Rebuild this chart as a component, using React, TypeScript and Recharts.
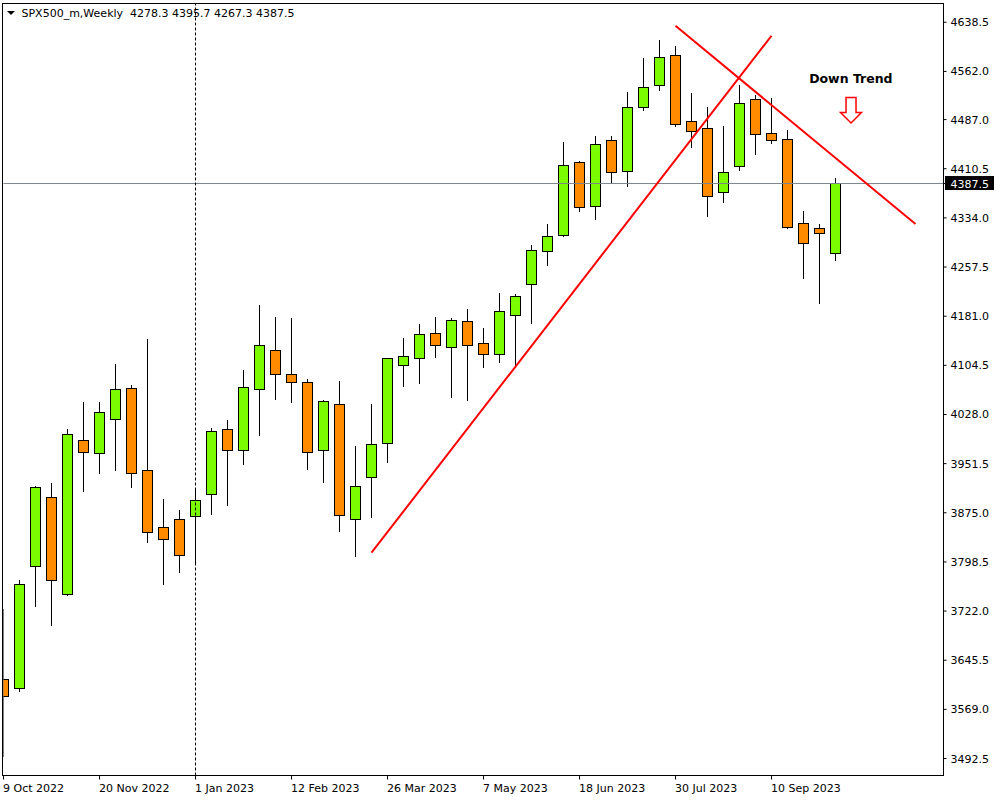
import React from 'react';
import { ComposedChart, Bar, XAxis, YAxis, ReferenceLine, ReferenceDot } from 'recharts';

// weekly bars, first bar = week of 9 Oct 2022
const weekTicks = [0, 6, 12, 18, 24, 30, 36, 42, 48];
const weekLabels = ['9 Oct 2022', '20 Nov 2022', '1 Jan 2023', '12 Feb 2023', '26 Mar 2023', '7 May 2023', '18 Jun 2023', '30 Jul 2023', '10 Sep 2023'];

const priceTicks = [3492.5, 3569.0, 3645.5, 3722.0, 3798.5, 3875.0, 3951.5, 4028.0, 4104.5, 4181.0, 4257.5, 4334.0, 4410.5, 4487.0, 4562.0, 4638.5];

const opens = [
  3615.5, 3601.4, 3791.5, 3898.9, 3747.9, 3987.7, 3967.5, 4020.4, 4068.7, 3941.0,
  3852.2, 3864.7, 3869.4, 3903.6, 4004.9, 3972.2, 4067.2, 4127.9, 4090.5, 4078.1,
  3972.2, 4043.8, 3864.7, 3930.1, 3983.1, 4104.5, 4115.4, 4154.4, 4132.6, 4173.1,
  4138.8, 4121.7, 4182.4, 4230.7, 4282.1, 4307.0, 4420.7, 4352.2, 4455.0, 4406.7,
  4506.4, 4540.7, 4587.4, 4484.6, 4473.7, 4374.0, 4414.5, 4518.9, 4465.9, 4456.6,
  4325.7, 4317.9, 4278.3,
];
const highs = [
  3724.5, 3770.1, 3916.5, 3920.7, 4005.3, 4047.4, 4047.4, 4106.6, 4073.9, 4145.5,
  3896.3, 3879.2, 3913.0, 4006.4, 4019.3, 4097.2, 4198.5, 4179.8, 4178.2, 4083.2,
  4050.5, 4080.1, 3978.9, 4044.3, 4116.5, 4147.1, 4168.9, 4179.8, 4177.8, 4192.2,
  4162.7, 4217.2, 4215.1, 4291.5, 4324.2, 4451.9, 4422.8, 4462.2, 4461.2, 4529.8,
  4582.7, 4610.8, 4601.4, 4528.2, 4506.4, 4476.8, 4540.7, 4525.1, 4520.4, 4470.6,
  4344.4, 4324.2, 4395.7,
];
const lows = [
  3494.9, 3596.1, 3728.5, 3699.0, 3745.7, 3907.7, 3935.7, 3940.4, 3913.9, 3828.2,
  3762.8, 3781.5, 3793.5, 3871.4, 3885.9, 3949.2, 3994.9, 4051.0, 4046.3, 3941.9,
  3921.7, 3845.4, 3806.4, 3867.2, 3952.8, 4071.2, 4075.9, 4116.4, 4053.1, 4049.4,
  4099.9, 4108.6, 4103.5, 4168.4, 4259.7, 4305.0, 4343.8, 4331.3, 4388.0, 4381.8,
  4500.2, 4531.3, 4475.3, 4442.6, 4335.1, 4356.9, 4406.7, 4431.6, 4448.8, 4316.4,
  4239.4, 4200.5, 4267.3,
];
const closes = [
  3589.5, 3763.9, 3914.5, 3769.7, 3997.1, 3969.0, 4031.3, 4067.2, 3936.3, 3844.4,
  3833.5, 3808.6, 3894.3, 4001.8, 3972.2, 4070.3, 4135.7, 4090.5, 4078.1, 3969.0,
  4048.5, 3870.9, 3916.1, 3981.5, 4115.4, 4118.6, 4152.8, 4135.7, 4174.6, 4135.7,
  4121.7, 4188.7, 4212.0, 4283.7, 4305.5, 4416.1, 4350.7, 4448.8, 4405.2, 4506.4,
  4537.6, 4584.3, 4479.9, 4469.0, 4367.8, 4405.2, 4512.6, 4464.4, 4455.0, 4319.5,
  4294.6, 4310.2, 4387.5,
];

const lastClose = 4387.5;
const yearBreak = 12;
const upTrend = [{ x: 23, y: 3812.9 }, { x: 48, y: 4617.5 }];
const downTrend = [{ x: 42, y: 4633.1 }, { x: 57, y: 4324.5 }];
const noteAt = { x: 52.96, y: 4544.4 };
const arrowAt = { x: 52.97, y: 4521.4 };

const rows = opens.map((o, i) => ({ i, open: o, high: highs[i], low: lows[i], close: closes[i] }));

const FONT = 'DejaVu Sans';

function Candle(props: any) {
  const { x, y, width, height, payload } = props;
  const { open, high, low, close } = payload;
  const top = Math.min(y, y + height);
  const span = Math.abs(height);
  const k = high > low ? span / (high - low) : 0;
  const py = (v: number) => top + (high - v) * k;
  const cx = x + width / 2;
  const up = close >= open;
  const bodyTop = py(Math.max(open, close));
  const bodyBot = py(Math.min(open, close));
  const left = Math.max(cx - 5, 2.5);
  return (
    <g shapeRendering="crispEdges">
      <line x1={cx} x2={cx} y1={top} y2={top + span} stroke="#000" />
      <rect
        x={left}
        y={bodyTop}
        width={cx + 5 - left}
        height={Math.max(bodyBot - bodyTop, 1)}
        fill={up ? '#7CFC00' : '#FF8C00'}
        stroke="#000"
      />
    </g>
  );
}

function DateTick(props: any) {
  const { x, y, payload } = props;
  const label = weekLabels[weekTicks.indexOf(payload.value)];
  return (
    <text x={x - 0.5} y={y + 10.5} fontSize={11} fontFamily={FONT} fill="#000">
      {label}
    </text>
  );
}

function PriceTick(props: any) {
  const { x, y, payload } = props;
  const v = payload.value;
  if (v === lastClose) {
    return (
      <g>
        <rect x={x - 5.5} y={y - 7.5} width={49} height={14} fill="#000" />
        <text x={x} y={y + 4} fontSize={11} fontFamily={FONT} fill="#fff">{v.toFixed(1)}</text>
      </g>
    );
  }
  return (
    <text x={x} y={y + 4} fontSize={11} fontFamily={FONT} fill="#000">{v.toFixed(1)}</text>
  );
}

function NoteText(props: any) {
  return (
    <text x={props.cx} y={props.cy} textAnchor="middle" fontSize={12.5} fontWeight="bold" fontFamily={FONT} fill="#000">
      Down Trend
    </text>
  );
}

function DownArrow(props: any) {
  const { cx, cy } = props;
  const pts = [
    [cx - 5, cy], [cx + 5, cy], [cx + 5, cy + 15], [cx + 10.5, cy + 15],
    [cx, cy + 25.5], [cx - 10.5, cy + 15], [cx - 5, cy + 15],
  ].map((p) => p.join(',')).join(' ');
  return <polygon points={pts} fill="#fff" stroke="#FF0000" strokeWidth={1.5} />;
}

export default function App() {
  return (
    <div style={{ position: 'absolute', left: 0, top: 0, width: 1000, height: 800, background: '#fff' }}>
      <ComposedChart
        width={1000}
        height={800}
        data={rows}
        margin={{ top: 3.5, right: 0, bottom: 0, left: 3.5 }}
      >
        <XAxis
          type="number"
          dataKey="i"
          domain={[0, 58.75]}
          allowDataOverflow
          ticks={weekTicks}
          interval={0}
          height={24.5}
          axisLine={false}
          tickLine={{ stroke: '#000' }}
          tickSize={4}
          tickMargin={2}
          tick={<DateTick />}
        />
        <YAxis
          orientation="right"
          domain={[3466.1, 4667.7]}
          allowDataOverflow
          ticks={[...priceTicks, lastClose]}
          interval={0}
          width={56.5}
          axisLine={false}
          tickLine={{ stroke: '#000' }}
          tickSize={3}
          tickMargin={4}
          tick={<PriceTick />}
        />
        <ReferenceLine y={lastClose} stroke="#7D878C" />
        <ReferenceLine x={yearBreak} stroke="#000" strokeDasharray="3 2" />
        <Bar
          dataKey={(d: any) => [d.low, d.high]}
          barSize={10}
          shape={(p: any) => <Candle {...p} />}
          isAnimationActive={false}
        />
        <ReferenceLine segment={upTrend} stroke="#FF0000" strokeWidth={2} />
        <ReferenceLine segment={downTrend} stroke="#FF0000" strokeWidth={2} />
        <ReferenceDot x={noteAt.x} y={noteAt.y} r={0} shape={(p: any) => <NoteText {...p} />} />
        <ReferenceDot x={arrowAt.x} y={arrowAt.y} r={0} shape={(p: any) => <DownArrow {...p} />} />
      </ComposedChart>
      <div
        style={{
          position: 'absolute', left: 2, top: 3, width: 942, height: 773,
          border: '1px solid #000', boxSizing: 'border-box', pointerEvents: 'none',
        }}
      />
      <svg width={400} height={22} style={{ position: 'absolute', left: 0, top: 0 }}>
        <polygon points="7,11 15,11 11,15" fill="#000" />
        <text x={21.5} y={16.5} fontSize={11} fontFamily={FONT} fill="#000">
          {'SPX500_m,Weekly\u00a0\u00a04278.3 4395.7 4267.3 4387.5'}
        </text>
      </svg>
    </div>
  );
}
